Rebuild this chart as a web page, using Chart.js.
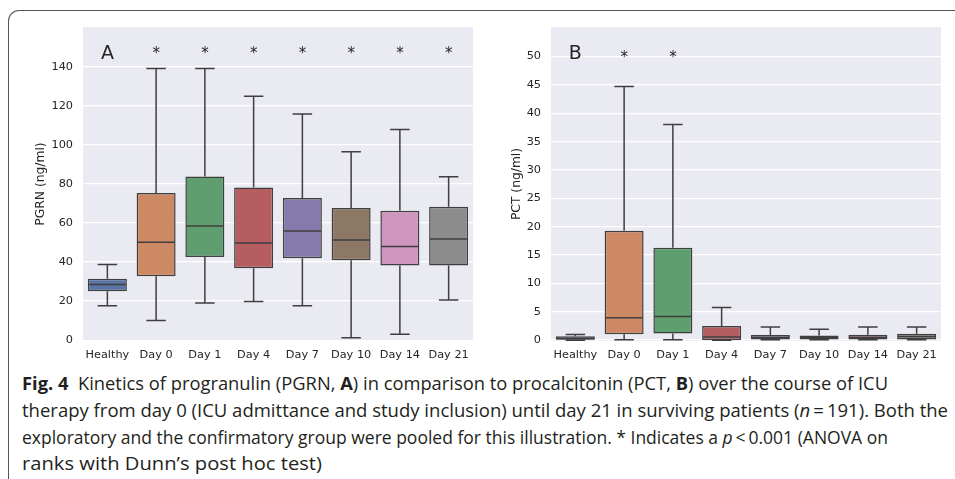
<!DOCTYPE html>
<html>
<head>
<meta charset="utf-8">
<script src="https://cdn.jsdelivr.net/npm/chart.js@4/dist/chart.umd.min.js"></script>
<style>
  html, body { margin: 0; padding: 0; background: #ffffff; }
  body { width: 955px; height: 479px; position: relative; overflow: hidden; }
  #frame { position: absolute; left: 8px; top: 10px; width: 960px; height: 480px;
           border-top: 1.5px solid #555; border-left: 1.5px solid #555; border-top-left-radius: 11px; }
  .wrap { position: absolute; }
  .wrap canvas { display: block; }
  .cap { position: absolute; left: 22px; font-family: "Open Sans", sans-serif; font-size: 17.5px;
         line-height: 20px; color: #231f20; white-space: nowrap; transform-origin: 0 50%; }
  .cap b { font-weight: 700; }
</style>
</head>
<body>
<div id="frame"></div>
<div class="wrap" style="left:20px; top:20px; width:460px; height:351px;"><canvas id="chartA" width="460" height="351"></canvas></div>
<div class="wrap" style="left:496px; top:20px; width:452px; height:351px;"><canvas id="chartB" width="452" height="351"></canvas></div>

<div class="cap" id="l1" style="top:373px;"><b>Fig. 4</b>&nbsp; Kinetics of progranulin (PGRN, <b>A</b>) in comparison to procalcitonin (PCT, <b>B</b>) over the course of ICU</div>
<div class="cap" id="l2" style="top:400px;">therapy from day 0 (ICU admittance and study inclusion) until day 21 in surviving patients (<i>n</i>&#8201;=&#8201;191). Both the</div>
<div class="cap" id="l3" style="top:427px;">exploratory and the confirmatory group were pooled for this illustration. * Indicates a <i>p</i>&#8201;&lt;&#8201;0.001 (ANOVA on</div>
<div class="cap" id="l4" style="top:453px;">ranks with Dunn’s post hoc test)</div>

<script>
// ---- Data ----
const categories = ['Healthy', 'Day 0', 'Day 1', 'Day 4', 'Day 7', 'Day 10', 'Day 14', 'Day 21'];

const pgrnMin    = [17.7, 10.1, 19.1, 19.8, 17.7, 1.2, 3.1, 20.6];
const pgrnQ1     = [25.1, 32.7, 42.6, 36.8, 41.9, 40.9, 38.3, 38.3];
const pgrnMedian = [28.5, 50.1, 58.5, 49.8, 55.9, 51.3, 48.0, 51.8];
const pgrnQ3     = [31.4, 75.3, 83.8, 78.2, 72.8, 67.7, 66.3, 68.3];
const pgrnMax    = [38.7, 139.0, 139.0, 124.9, 115.8, 96.4, 107.8, 83.6];
const pgrnMarks  = ['A', '*', '*', '*', '*', '*', '*', '*'];
const pgrnTicks  = [0, 20, 40, 60, 80, 100, 120, 140];

const pctMin    = [0.0, 0.05, 0.05, 0.0, 0.05, 0.05, 0.05, 0.05];
const pctQ1     = [0.08, 1.06, 1.18, 0.03, 0.12, 0.10, 0.10, 0.10];
const pctMedian = [0.30, 3.94, 4.17, 0.55, 0.47, 0.42, 0.50, 0.65];
const pctQ3     = [0.68, 19.3, 16.3, 2.50, 0.90, 0.83, 0.95, 1.13];
const pctMax    = [1.00, 44.7, 38.0, 5.76, 2.30, 1.94, 2.30, 2.30];
const pctMarks  = ['B', '*', '*', '', '', '', '', ''];
const pctTicks  = [0, 5, 10, 15, 20, 25, 30, 35, 40, 45, 50];

// ---- Styles ----
const boxColors = ['#5875a4', '#cc8963', '#5f9e6e', '#b55d60', '#857aab', '#8d7866', '#d095bf', '#8c8c8c'];
const lineColor = '#3f3f3f';
const textColor = '#262626';
const FONT = "'DejaVu Sans', sans-serif";

function makeBoxPlugin(stats) {
  return {
    id: 'boxWhisk',
    beforeDraw(chart) {
      const {ctx, chartArea: a} = chart;
      ctx.save();
      ctx.fillStyle = '#eaeaf2';
      ctx.fillRect(a.left, a.top, a.right - a.left, a.bottom - a.top);
      ctx.restore();
    },
    afterDatasetsDraw(chart) {
      const {ctx, scales: {y}} = chart;
      const meta = chart.getDatasetMeta(0);
      ctx.save();
      ctx.strokeStyle = lineColor;
      ctx.lineWidth = 1.5;
      ctx.lineCap = 'butt';
      meta.data.forEach((bar, i) => {
        const cx = bar.x;
        const half = bar.width / 2;
        const yq1 = y.getPixelForValue(stats.q1[i]);
        const yq3 = y.getPixelForValue(stats.q3[i]);
        const ymin = y.getPixelForValue(stats.min[i]);
        const ymax = y.getPixelForValue(stats.max[i]);
        const ymed = y.getPixelForValue(stats.med[i]);
        ctx.beginPath();
        ctx.moveTo(cx, yq3); ctx.lineTo(cx, ymax);
        ctx.moveTo(cx, yq1); ctx.lineTo(cx, ymin);
        ctx.moveTo(cx - half / 2, ymax); ctx.lineTo(cx + half / 2, ymax);
        ctx.moveTo(cx - half / 2, ymin); ctx.lineTo(cx + half / 2, ymin);
        ctx.moveTo(cx - half + 0.75, ymed); ctx.lineTo(cx + half - 0.75, ymed);
        ctx.stroke();
        const m = stats.marks[i];
        if (m) {
          ctx.fillStyle = textColor;
          ctx.textAlign = 'center';
          ctx.textBaseline = 'alphabetic';
          if (m === '*') {
            const s = 15;
            ctx.font = s + 'px ' + FONT;
            ctx.fillText(m, cx, y.getPixelForValue(stats.starLevel) + 0.53 * s);
          } else {
            const s = 19;
            ctx.font = s + 'px ' + FONT;
            ctx.fillText(m, cx, y.getPixelForValue(stats.letterLevel) + 0.365 * s);
          }
        }
      });
      ctx.restore();
    }
  };
}

function makeChart(id, q1, q3, stats, yMin, yMax, ticks, title, yWidth) {
  return new Chart(document.getElementById(id), {
    type: 'bar',
    data: {
      labels: categories,
      datasets: [{
        data: q1.map((v, i) => [v, q3[i]]),
        backgroundColor: boxColors,
        borderColor: lineColor,
        borderWidth: 1.5,
        borderSkipped: false,
        barPercentage: 0.8,
        categoryPercentage: 1.0
      }]
    },
    options: {
      responsive: false,
      animation: false,
      events: [],
      layout: { autoPadding: false, padding: { left: 0, right: 7, top: 7, bottom: 0 } },
      plugins: { legend: { display: false }, tooltip: { enabled: false } },
      scales: {
        x: {
          grid: { display: false, drawTicks: false },
          border: { display: false },
          ticks: { color: textColor, font: { family: FONT, size: 11.3 }, padding: 7, maxRotation: 0, autoSkip: false },
          afterFit: s => { s.height = 30; s.paddingLeft = 0; s.paddingRight = 0; }
        },
        y: {
          min: yMin, max: yMax,
          afterBuildTicks: s => { s.ticks = ticks.map(v => ({ value: v })); },
          grid: { color: '#ffffff', lineWidth: 1.3, drawTicks: false },
          border: { display: false },
          ticks: { color: textColor, font: { family: FONT, size: 11.3 }, padding: 10 },
          title: { display: true, text: title, color: textColor, font: { family: FONT, size: 12.3 }, padding: { top: 13.6, bottom: 0 } },
          afterFit: s => { s.width = yWidth; s.paddingTop = 0; s.paddingBottom = 0; }
        }
      }
    },
    plugins: [makeBoxPlugin(stats)]
  });
}

makeChart('chartA', pgrnQ1, pgrnQ3,
  { min: pgrnMin, q1: pgrnQ1, med: pgrnMedian, q3: pgrnQ3, max: pgrnMax, marks: pgrnMarks, starLevel: 148.5, letterLevel: 147.3 },
  -0.4, 160.3, pgrnTicks, 'PGRN (ng/ml)', 63);

makeChart('chartB', pctQ1, pctQ3,
  { min: pctMin, q1: pctQ1, med: pctMedian, q3: pctQ3, max: pctMax, marks: pctMarks, starLevel: 50.4, letterLevel: 50.7 },
  -0.15, 55.2, pctTicks, 'PCT (ng/ml)', 55);

// fit caption lines to the reference widths
const capWidths = { l1: 866, l2: 926, l3: 866, l4: 300 };
Object.keys(capWidths).forEach(id => {
  const el = document.getElementById(id);
  const w = el.getBoundingClientRect().width;
  el.style.transform = 'scaleX(' + (capWidths[id] / w) + ')';
});
</script>
</body>
</html>
